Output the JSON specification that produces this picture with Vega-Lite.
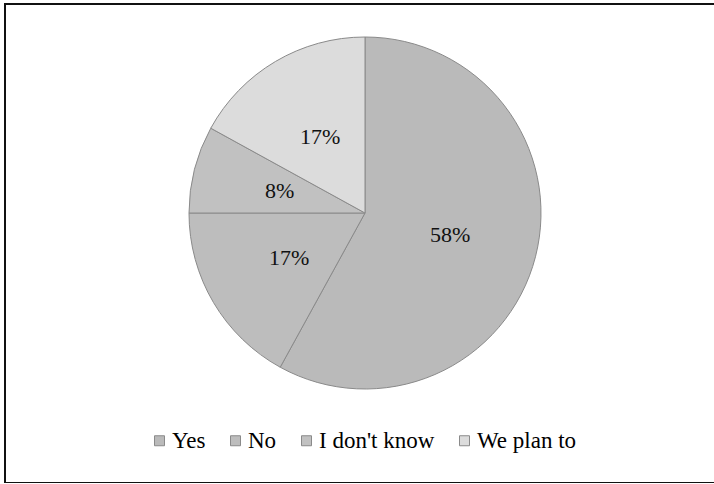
{
  "$schema": "https://vega.github.io/schema/vega-lite/v6.json",
  "width": 720,
  "height": 479,
  "autosize": {"type": "none"},
  "padding": {"left": 5, "top": 4, "right": 0, "bottom": 0},
  "background": "white",
  "view": {"stroke": "#111111", "strokeWidth": 2, "fill": "white"},
  "config": {
    "font": "Liberation Serif"
  },
  "data": {
    "values": [
      {"category": "Yes", "value": 58, "label": "58%", "rank": 1},
      {"category": "No", "value": 17, "label": "17%", "rank": 2},
      {"category": "I don't know", "value": 8, "label": "8%", "rank": 3},
      {"category": "We plan to", "value": 17, "label": "17%", "rank": 4}
    ]
  },
  "encoding": {
    "theta": {"field": "value", "type": "quantitative", "stack": true},
    "order": {"field": "rank", "type": "quantitative"}
  },
  "layer": [
    {
      "mark": {"type": "arc", "outerRadius": 176, "yOffset": -30.5, "stroke": "#8a8a8a", "strokeWidth": 1},
      "encoding": {
        "color": {
          "field": "category",
          "type": "nominal",
          "sort": ["Yes", "No", "I don't know", "We plan to"],
          "scale": {
            "domain": ["Yes", "No", "I don't know", "We plan to"],
            "range": ["#bababa", "#bdbdbd", "#c1c1c1", "#dcdcdc"]
          },
          "legend": {
            "title": null,
            "orient": "none",
            "direction": "horizontal",
            "legendX": 143,
            "legendY": 425,
            "padding": 0,
            "symbolType": "square",
            "symbolSize": 100,
            "symbolStrokeColor": "#8a8a8a",
            "symbolStrokeWidth": 1,
            "labelFont": "Liberation Serif",
            "labelFontSize": 23,
            "labelColor": "#000000",
            "labelOffset": 1,
            "columnPadding": 18
          }
        }
      }
    },
    {
      "mark": {"type": "text", "radius": 88, "yOffset": -30.5, "font": "Liberation Serif", "fontSize": 22, "color": "#111111"},
      "encoding": {
        "text": {"field": "label", "type": "nominal"}
      }
    }
  ]
}
